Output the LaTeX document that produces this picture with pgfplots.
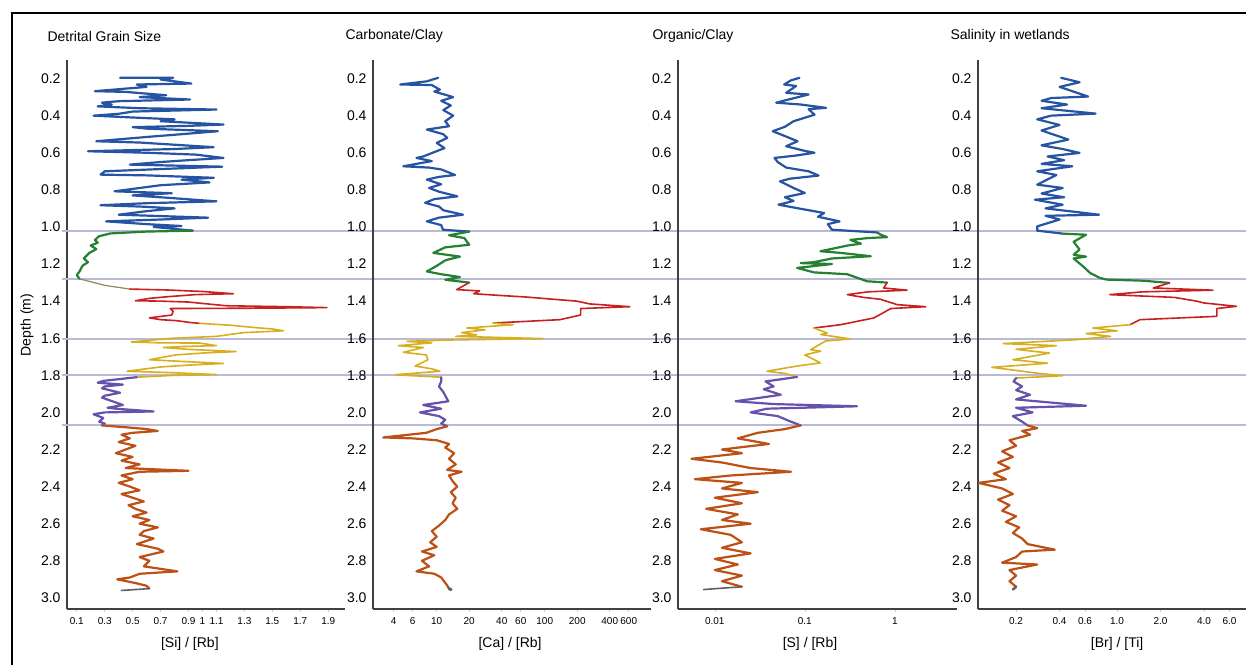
\documentclass[border=0pt]{standalone}
\usepackage{fontspec}
\setmainfont{Liberation Sans}
\usepackage{pgfplots}
\pgfplotsset{compat=1.18}
\definecolor{cblue}{RGB}{38,84,162}
\definecolor{cgreen}{RGB}{38,128,50}
\definecolor{cred}{RGB}{200,32,32}
\definecolor{cgold}{RGB}{214,174,32}
\definecolor{cpurple}{RGB}{102,82,170}
\definecolor{corange}{RGB}{188,80,22}
\definecolor{cgray}{RGB}{95,95,105}
\definecolor{ctan}{RGB}{150,135,85}
\definecolor{refc}{RGB}{186,186,216}
\pgfplotsset{panel/.style={
  scale only axis, height=549pt, anchor=north west,
  ymin=-3.06, ymax=-0.1,
  ytick={-3,-2.8,-2.6,-2.4,-2.2,-2,-1.8,-1.6,-1.4,-1.2,-1,-0.8,-0.6,-0.4,-0.2},
  yticklabels={3.0,2.8,2.6,2.4,2.2,2.0,1.8,1.6,1.4,1.2,1.0,0.8,0.6,0.4,0.2},
  axis x line=bottom, axis y line=left,
  axis line style={-, draw=black!75, line width=1.3pt},
  ytick style={draw=none}, xtick style={draw=black!20, line width=0.6pt},
  tick align=outside, major tick length=3pt, xminorticks=false,
  yticklabel style={font=\fontsize{14}{14}\selectfont},
  xticklabel style={font=\fontsize{10}{10}\selectfont, yshift=-2pt},
  xlabel style={font=\fontsize{14}{14}\selectfont, anchor=center, yshift=-35pt},
  /pgf/number format/assume math mode=true,
  every axis plot/.append style={line width=2.2pt, line join=round, line cap=round, mark=none},
}}
\begin{document}
\begin{tikzpicture}
\useasboundingbox (0,0) rectangle (1246pt,-665pt);
\draw[line width=1.6pt] (12pt,-665pt) -- (12pt,-13pt) -- (1250pt,-13pt);
\node[anchor=west, font=\fontsize{14}{14}\selectfont] at (44pt,-36pt) {Detrital Grain Size};
\node[anchor=west, font=\fontsize{14}{14}\selectfont] at (342pt,-36pt) {Carbonate/Clay};
\node[anchor=west, font=\fontsize{14}{14}\selectfont] at (649pt,-36pt) {Organic/Clay};
\node[anchor=west, font=\fontsize{14}{14}\selectfont] at (947pt,-36pt) {Salinity in wetlands};
\node[rotate=90, font=\fontsize{14}{14}\selectfont] at (27pt,-325pt) {Depth (m)};

% Panel 1
\begin{axis}[panel, at={(67pt,-60pt)}, width=278pt, clip=false,
  xmin=0.03, xmax=2.02,
  xtick={0.1,0.3,0.5,0.7,0.9,1,1.1,1.3,1.5,1.7,1.9},
  xticklabels={0.1,0.3,0.5,0.7,0.9,1,1.1,1.3,1.5,1.7,1.9},
  xlabel={[Si] / [Rb]}, xlabel style={at={(axis description cs:0.442,0)}}]
\draw[refc, line width=2pt] ([xshift=-5pt]axis cs:0.03,-1.02) -- ([xshift=1185pt]axis cs:0.03,-1.02);
\draw[refc, line width=2pt] ([xshift=-5pt]axis cs:0.03,-1.28) -- ([xshift=1185pt]axis cs:0.03,-1.28);
\draw[refc, line width=2pt] ([xshift=-5pt]axis cs:0.03,-1.605) -- ([xshift=1185pt]axis cs:0.03,-1.605);
\draw[refc, line width=2pt] ([xshift=-5pt]axis cs:0.03,-1.80) -- ([xshift=1185pt]axis cs:0.03,-1.80);
\draw[refc, line width=2pt] ([xshift=-5pt]axis cs:0.03,-2.07) -- ([xshift=1185pt]axis cs:0.03,-2.07);
\addplot[cblue] coordinates {(0.41,-0.196) (0.79,-0.196) (0.70,-0.205) (0.92,-0.227) (0.53,-0.232) (0.60,-0.245) (0.23,-0.268) (0.45,-0.272) (0.74,-0.29) (0.55,-0.30) (0.91,-0.313) (0.40,-0.322) (0.28,-0.33) (0.35,-0.34) (0.25,-0.35) (0.55,-0.36) (1.10,-0.367) (0.50,-0.378) (0.40,-0.39) (0.22,-0.40) (0.50,-0.41) (0.80,-0.42) (0.70,-0.43) (1.15,-0.448) (0.90,-0.455) (0.50,-0.462) (0.60,-0.47) (1.11,-0.484) (0.85,-0.50) (0.60,-0.515) (0.24,-0.538) (0.55,-0.545) (1.08,-0.57) (0.80,-0.58) (0.18,-0.592) (0.60,-0.60) (0.95,-0.61) (1.15,-0.628) (0.90,-0.64) (0.70,-0.65) (0.48,-0.664) (1.14,-0.675) (0.80,-0.685) (0.30,-0.70) (0.27,-0.718) (0.60,-0.722) (1.08,-0.735) (0.85,-0.745) (1.05,-0.76) (0.70,-0.775) (0.55,-0.79) (0.37,-0.808) (0.78,-0.818) (0.50,-0.83) (0.70,-0.84) (1.10,-0.862) (0.60,-0.872) (0.27,-0.883) (0.55,-0.89) (0.80,-0.90) (0.60,-0.915) (0.40,-0.934) (1.04,-0.95) (0.70,-0.96) (0.31,-0.97) (0.60,-0.985) (0.85,-0.995) (0.65,-1.00) (0.93,-1.02)};
\addplot[cgreen] coordinates {(0.93,-1.02) (0.60,-1.025) (0.34,-1.035) (0.26,-1.05) (0.23,-1.07) (0.25,-1.085) (0.20,-1.10) (0.24,-1.12) (0.19,-1.14) (0.15,-1.17) (0.18,-1.19) (0.14,-1.21) (0.12,-1.24) (0.10,-1.26) (0.12,-1.28)};
\addplot[ctan, line width=1.2pt] coordinates {(0.12,-1.28) (0.30,-1.315) (0.48,-1.335)};
\addplot[cred, line width=1.6pt] coordinates {(0.48,-1.335) (0.75,-1.34) (1.00,-1.348) (1.22,-1.36) (0.95,-1.365) (0.77,-1.375) (0.62,-1.385) (0.52,-1.398) (0.70,-1.40) (0.90,-1.405) (1.17,-1.425) (1.60,-1.43) (1.89,-1.435) (1.40,-1.438) (0.77,-1.44) (0.79,-1.455) (0.78,-1.475) (0.62,-1.49) (0.70,-1.50) (0.81,-1.505) (0.91,-1.515) (0.98,-1.52)};
\addplot[cgold, line width=1.6pt] coordinates {(0.98,-1.52) (1.20,-1.53) (1.41,-1.545) (1.50,-1.55) (1.58,-1.56) (1.29,-1.57) (1.10,-1.59) (0.95,-1.595) (0.79,-1.60) (0.49,-1.62) (0.70,-1.625) (0.98,-1.626) (1.10,-1.64) (0.85,-1.645) (0.72,-1.65) (0.90,-1.66) (1.24,-1.672) (1.00,-1.68) (0.81,-1.69) (0.62,-1.716) (0.85,-1.725) (1.15,-1.736) (0.90,-1.745) (0.70,-1.755) (0.46,-1.778) (0.75,-1.785) (1.10,-1.796) (0.80,-1.80) (0.53,-1.81)};
\addplot[cpurple] coordinates {(0.53,-1.81) (0.29,-1.83) (0.25,-1.84) (0.43,-1.85) (0.30,-1.86) (0.28,-1.87) (0.41,-1.894) (0.30,-1.91) (0.28,-1.92) (0.43,-1.96) (0.32,-1.975) (0.38,-1.98) (0.65,-1.995) (0.30,-2.0) (0.22,-2.01) (0.29,-2.03) (0.26,-2.05) (0.30,-2.06) (0.28,-2.07)};
\addplot[corange] coordinates {(0.28,-2.07) (0.45,-2.08) (0.60,-2.09) (0.68,-2.10) (0.50,-2.11) (0.42,-2.12) (0.48,-2.14) (0.40,-2.16) (0.52,-2.18) (0.45,-2.20) (0.38,-2.22) (0.50,-2.24) (0.42,-2.26) (0.55,-2.28) (0.45,-2.30) (0.90,-2.315) (0.55,-2.32) (0.42,-2.34) (0.50,-2.36) (0.40,-2.38) (0.48,-2.40) (0.55,-2.42) (0.42,-2.44) (0.50,-2.46) (0.58,-2.48) (0.47,-2.50) (0.52,-2.52) (0.60,-2.54) (0.50,-2.56) (0.62,-2.58) (0.55,-2.60) (0.68,-2.62) (0.58,-2.64) (0.55,-2.66) (0.65,-2.68) (0.53,-2.71) (0.68,-2.735) (0.72,-2.75) (0.55,-2.78) (0.62,-2.80) (0.58,-2.83) (0.82,-2.857) (0.55,-2.87) (0.48,-2.89) (0.39,-2.90) (0.52,-2.92) (0.60,-2.935) (0.62,-2.95)};
\addplot[cgray, line width=1.6pt] coordinates {(0.62,-2.95) (0.42,-2.96)};
\end{axis}

% Panel 2
\begin{axis}[panel, at={(373pt,-60pt)}, width=278pt, xmode=log,
  xmin=2.57, xmax=964,
  xtick={4,6,10,20,40,60,100,200,400,600},
  xticklabels={4,6,10,20,40,60,100,200,400,600},
  xlabel={[Ca] / [Rb]}, xlabel style={at={(axis description cs:0.493,0)}}]
\addplot[cblue] coordinates {(10.3,-0.196) (8.1,-0.215) (4.6,-0.232) (9,-0.235) (10.7,-0.26) (9.5,-0.27) (14.2,-0.30) (11,-0.32) (13.5,-0.345) (11.5,-0.37) (14.2,-0.40) (12,-0.43) (13,-0.457) (8.1,-0.475) (11.5,-0.50) (12.5,-0.52) (10,-0.547) (11.8,-0.575) (7.5,-0.62) (6.5,-0.628) (9,-0.645) (4.9,-0.673) (8.5,-0.68) (11,-0.69) (14.8,-0.72) (10.5,-0.73) (8.1,-0.745) (11,-0.77) (8.5,-0.79) (10.5,-0.81) (15.5,-0.835) (9.5,-0.85) (7.8,-0.87) (10.5,-0.89) (11.5,-0.91) (17.5,-0.934) (10.5,-0.95) (8.1,-0.97) (11,-0.99) (11.4,-1.015) (20,-1.025)};
\addplot[cgreen] coordinates {(20,-1.025) (13,-1.045) (18,-1.06) (20,-1.096) (12,-1.11) (9.3,-1.14) (16.4,-1.16) (12,-1.18) (10,-1.21) (8.1,-1.24) (11,-1.255) (16.4,-1.27) (12,-1.285) (20,-1.30)};
\addplot[cred, line width=1.6pt] coordinates {(20,-1.30) (15.3,-1.338) (25,-1.345) (22,-1.36) (40,-1.37) (68,-1.378) (120,-1.39) (198,-1.40) (260,-1.415) (614,-1.43) (215,-1.44) (215,-1.475) (138,-1.50) (33.4,-1.518)};
\addplot[cgold, line width=1.6pt] coordinates {(33.4,-1.518) (51,-1.527) (19,-1.545) (28,-1.555) (17,-1.57) (23.5,-1.582) (15,-1.59) (97,-1.602) (12,-1.61) (5.3,-1.617) (9,-1.625) (4.4,-1.64) (7.5,-1.65) (4.9,-1.676) (8,-1.69) (8.3,-1.716) (6.3,-1.75) (9,-1.765) (10.7,-1.778) (4.1,-1.797) (11,-1.81)};
\addplot[cpurple] coordinates {(11,-1.81) (11,-1.833) (10.5,-1.86) (11.5,-1.89) (12.8,-1.94) (7.5,-1.96) (11,-1.98) (7,-2.0) (10.5,-2.02) (12,-2.04) (11,-2.06) (12.5,-2.075)};
\addplot[corange] coordinates {(12.5,-2.075) (10,-2.09) (8,-2.11) (3.2,-2.135) (6,-2.14) (10,-2.15) (13,-2.17) (12,-2.19) (14.5,-2.22) (13,-2.25) (15,-2.28) (12.5,-2.31) (17,-2.32) (13,-2.34) (14,-2.37) (15.5,-2.40) (13.5,-2.43) (15,-2.46) (14,-2.49) (15.5,-2.52) (13,-2.55) (12,-2.58) (10.5,-2.61) (9,-2.64) (10,-2.67) (8.7,-2.70) (10,-2.725) (7.3,-2.75) (9.5,-2.77) (7.3,-2.80) (8.5,-2.83) (6.5,-2.857) (9.5,-2.87) (11,-2.89) (12.4,-2.93) (13,-2.95)};
\addplot[cgray, line width=3pt] coordinates {(13,-2.95) (13.6,-2.956)};
\end{axis}

% Panel 3
\begin{axis}[panel, at={(678pt,-60pt)}, width=279pt, xmode=log,
  xmin=0.0039, xmax=4.9,
  xtick={0.01,0.1,1}, xticklabels={0.01,0.1,1},
  xlabel={[S] / [Rb]}, xlabel style={at={(axis description cs:0.473,0)}}]
\addplot[cblue] coordinates {(0.087,-0.196) (0.07,-0.21) (0.059,-0.232) (0.08,-0.24) (0.062,-0.277) (0.11,-0.286) (0.07,-0.31) (0.048,-0.33) (0.09,-0.34) (0.172,-0.358) (0.11,-0.365) (0.128,-0.395) (0.075,-0.43) (0.06,-0.46) (0.044,-0.484) (0.06,-0.51) (0.083,-0.538) (0.062,-0.565) (0.1,-0.59) (0.128,-0.60) (0.08,-0.615) (0.046,-0.628) (0.05,-0.65) (0.062,-0.68) (0.11,-0.70) (0.142,-0.723) (0.068,-0.74) (0.053,-0.754) (0.075,-0.79) (0.1,-0.817) (0.06,-0.84) (0.075,-0.86) (0.051,-0.88) (0.085,-0.90) (0.164,-0.925) (0.14,-0.945) (0.243,-0.97) (0.18,-0.985) (0.2,-1.015) (0.64,-1.03)};
\addplot[cgreen] coordinates {(0.64,-1.03) (0.69,-1.041) (0.82,-1.055) (0.5,-1.06) (0.32,-1.07) (0.42,-1.09) (0.3,-1.10) (0.149,-1.131) (0.25,-1.14) (0.54,-1.158) (0.2,-1.17) (0.126,-1.19) (0.09,-1.195) (0.2,-1.20) (0.082,-1.221) (0.126,-1.245) (0.296,-1.255) (0.49,-1.293) (0.82,-1.30)};
\addplot[cred, line width=1.6pt] coordinates {(0.82,-1.30) (0.75,-1.329) (1.37,-1.341) (0.5,-1.35) (0.296,-1.365) (0.45,-1.38) (0.69,-1.39) (1.06,-1.419) (2.2,-1.43) (0.9,-1.44) (0.7,-1.47) (0.58,-1.491) (0.25,-1.527) (0.126,-1.545)};
\addplot[cgold, line width=1.6pt] coordinates {(0.126,-1.545) (0.177,-1.572) (0.15,-1.58) (0.32,-1.604) (0.17,-1.615) (0.116,-1.662) (0.15,-1.67) (0.1,-1.69) (0.149,-1.733) (0.082,-1.75) (0.038,-1.778) (0.06,-1.79) (0.082,-1.809)};
\addplot[cpurple] coordinates {(0.082,-1.809) (0.0366,-1.833) (0.045,-1.86) (0.035,-1.875) (0.054,-1.905) (0.017,-1.94) (0.045,-1.955) (0.38,-1.967) (0.038,-1.98) (0.025,-2.0) (0.05,-2.02) (0.07,-2.05) (0.09,-2.07)};
\addplot[corange] coordinates {(0.09,-2.07) (0.06,-2.09) (0.03,-2.11) (0.018,-2.14) (0.04,-2.17) (0.012,-2.20) (0.02,-2.22) (0.0055,-2.25) (0.012,-2.27) (0.025,-2.30) (0.07,-2.32) (0.015,-2.34) (0.006,-2.36) (0.02,-2.38) (0.012,-2.41) (0.03,-2.43) (0.01,-2.46) (0.02,-2.49) (0.008,-2.52) (0.018,-2.55) (0.012,-2.58) (0.025,-2.60) (0.007,-2.63) (0.015,-2.66) (0.02,-2.70) (0.012,-2.73) (0.025,-2.76) (0.01,-2.79) (0.018,-2.82) (0.01,-2.85) (0.02,-2.88) (0.012,-2.91) (0.02,-2.94)};
\addplot[cgray, line width=1.6pt] coordinates {(0.02,-2.94) (0.0075,-2.955)};
\end{axis}

% Panel 4
\begin{axis}[panel, at={(978pt,-60pt)}, width=268pt, xmode=log,
  xmin=0.109, xmax=7.8,
  xtick={0.2,0.4,0.6,1,2,4,6}, xticklabels={0.2,0.4,0.6,1.0,2.0,4.0,6.0},
  xlabel={[Br] / [Ti]}, xlabel style={at={(axis description cs:0.519,0)}}]
\addplot[cblue] coordinates {(0.41,-0.196) (0.55,-0.22) (0.4,-0.245) (0.63,-0.297) (0.35,-0.305) (0.3,-0.32) (0.45,-0.34) (0.3,-0.36) (0.71,-0.389) (0.35,-0.40) (0.28,-0.42) (0.4,-0.45) (0.3,-0.48) (0.46,-0.529) (0.3,-0.56) (0.42,-0.58) (0.55,-0.601) (0.33,-0.62) (0.43,-0.64) (0.3,-0.66) (0.49,-0.673) (0.28,-0.70) (0.38,-0.72) (0.28,-0.772) (0.42,-0.79) (0.3,-0.82) (0.43,-0.84) (0.27,-0.853) (0.42,-0.88) (0.32,-0.90) (0.75,-0.934) (0.32,-0.94) (0.4,-0.96) (0.28,-0.997) (0.28,-1.02) (0.42,-1.036)};
\addplot[cgreen] coordinates {(0.42,-1.036) (0.61,-1.042) (0.5,-1.08) (0.55,-1.122) (0.5,-1.15) (0.61,-1.16) (0.5,-1.17) (0.58,-1.212) (0.65,-1.248) (0.76,-1.275) (0.85,-1.284) (1.52,-1.29) (2.3,-1.302)};
\addplot[cred, line width=1.6pt] coordinates {(2.3,-1.302) (1.78,-1.329) (4.6,-1.341) (1.5,-1.35) (0.89,-1.365) (2.5,-1.38) (3.54,-1.40) (4.0,-1.41) (6.7,-1.428) (4.9,-1.44) (4.9,-1.482) (1.44,-1.50) (1.23,-1.527)};
\addplot[cgold, line width=1.6pt] coordinates {(1.23,-1.527) (0.68,-1.545) (1.0,-1.56) (0.61,-1.575) (0.9,-1.59) (0.52,-1.608) (0.163,-1.629) (0.38,-1.64) (0.2,-1.66) (0.34,-1.68) (0.19,-1.716) (0.33,-1.735) (0.136,-1.757) (0.29,-1.79) (0.42,-1.802) (0.2,-1.815)};
\addplot[cpurple] coordinates {(0.2,-1.815) (0.192,-1.833) (0.22,-1.86) (0.2,-1.88) (0.25,-1.905) (0.2,-1.93) (0.61,-1.964) (0.2,-1.975) (0.26,-2.0) (0.19,-2.02) (0.22,-2.05) (0.24,-2.07)};
\addplot[corange] coordinates {(0.24,-2.07) (0.28,-2.085) (0.22,-2.10) (0.25,-2.12) (0.18,-2.15) (0.2,-2.18) (0.16,-2.21) (0.19,-2.24) (0.15,-2.27) (0.18,-2.30) (0.14,-2.33) (0.17,-2.36) (0.11,-2.38) (0.16,-2.41) (0.19,-2.44) (0.15,-2.47) (0.18,-2.50) (0.16,-2.53) (0.2,-2.56) (0.17,-2.59) (0.21,-2.62) (0.19,-2.65) (0.22,-2.68) (0.24,-2.71) (0.37,-2.74) (0.22,-2.75) (0.2,-2.78) (0.16,-2.81) (0.28,-2.82) (0.18,-2.85) (0.2,-2.88) (0.18,-2.91) (0.2,-2.94)};
\addplot[cgray, line width=2.5pt] coordinates {(0.2,-2.94) (0.19,-2.955)};
\end{axis}
\end{tikzpicture}
\end{document}
